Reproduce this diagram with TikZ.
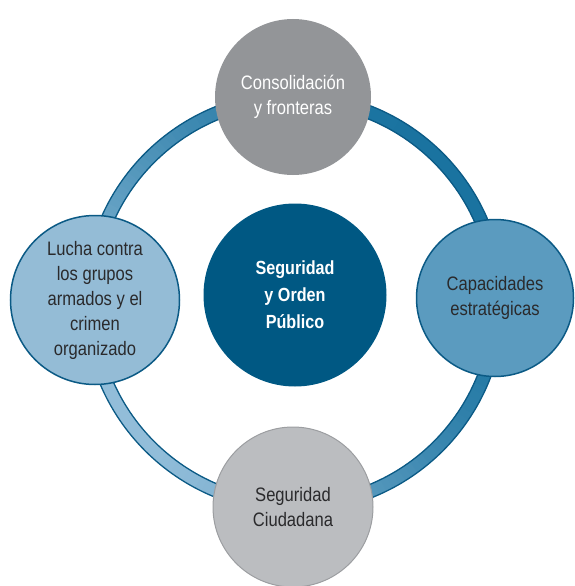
\documentclass[tikz,border=0pt]{standalone}
\usepackage{fontspec}
\setmainfont{Liberation Sans}[FakeStretch=0.85]
\definecolor{ringdark}{HTML}{1A73A0}
\definecolor{ringlight}{HTML}{93BEDA}
\definecolor{ringborder}{HTML}{0B5A85}
\definecolor{topgray}{HTML}{939598}
\definecolor{botgray}{HTML}{BBBDC0}
\definecolor{botborder}{HTML}{9C9EA1}
\definecolor{rightblue}{HTML}{5B9BBF}
\definecolor{leftblue}{HTML}{94BCD6}
\definecolor{centerblue}{HTML}{005883}
\definecolor{txtdark}{HTML}{2A2A2C}
\tikzset{
  bubble/.style={circle, inner sep=0pt, align=center, font=\fontsize{19.5}{25}\selectfont, text=txtdark},
  bluebord/.style={draw=ringborder, line width=1.5pt},
}
\begin{document}
\begin{tikzpicture}[x=1pt,y=1pt]
\useasboundingbox (0,0) rectangle (574,-586);
\coordinate (rc) at (294,-302);
% ring with angular colour variation
\foreach \a in {0,2,...,358} {
  \pgfmathtruncatemacro\t{100*((1+cos(\a-215))/2)^1.5}
  \draw[line width=13pt, color=ringlight!\t!ringdark] (rc) ++(\a:204) arc[start angle=\a, end angle=\a+2.6, radius=204];
}
\draw[ringborder, line width=1.3pt] (rc) circle[radius=210.5];
\draw[ringborder, line width=1.3pt] (rc) circle[radius=197.5];
% circles
\node[bubble, fill=topgray, text=white, minimum size=156pt] (top) at (293,-97) {Consolidación\\y fronteras};
\node[bubble, fill=rightblue, bluebord, minimum size=157pt] (right) at (495,-298) {Capacidades\\estratégicas};
\node[bubble, fill=leftblue, bluebord, minimum size=169pt] (left) at (95,-300) {Lucha contra\\los grupos\\armados y el\\crimen\\organizado};
\node[bubble, fill=botgray, draw=botborder, line width=1pt, minimum size=160pt] (bottom) at (293,-507) {Seguridad\\Ciudadana};
\node[bubble, fill=centerblue, text=white, minimum size=183pt, font=\fontsize{19}{27}\selectfont\bfseries] (center) at (295,-295) {Seguridad\\y Orden\\Público};
\end{tikzpicture}
\end{document}
